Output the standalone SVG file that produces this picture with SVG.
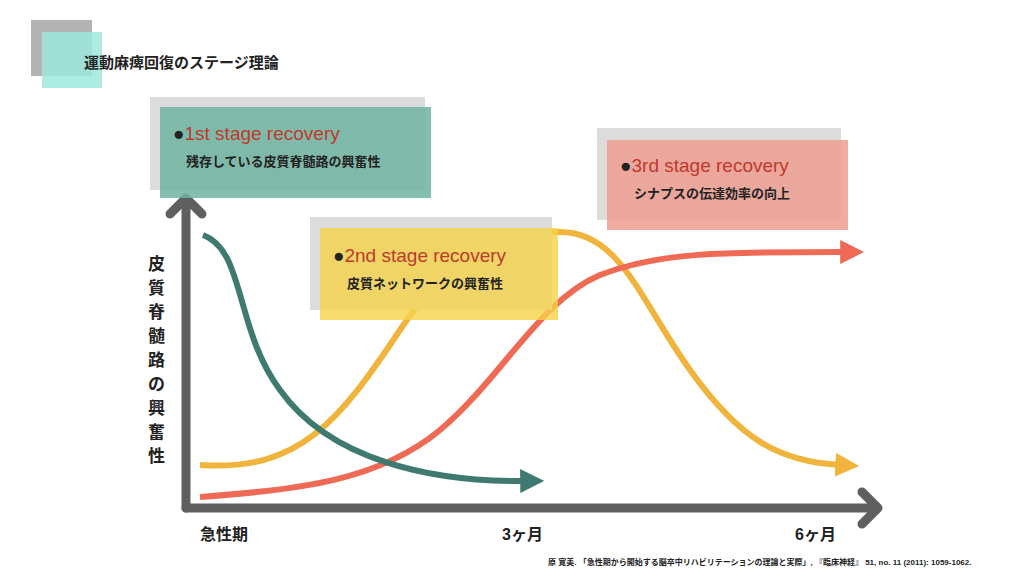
<svg xmlns="http://www.w3.org/2000/svg" width="1024" height="576" viewBox="0 0 1024 576">
<style>
text{font-family:"Liberation Sans","Noto Sans CJK JP",sans-serif;font-weight:bold;fill:#222}
.st{fill:#c0392b;font-size:19px;font-weight:normal}
.sub{font-size:13px}
.ax{font-size:16px}
.shadow{fill:#dcdcdc}
.curve{fill:none;stroke-width:6}
</style>
<defs>
<marker id="mg" viewBox="0 0 10 10" refX="2" refY="5" markerWidth="4" markerHeight="4" orient="auto" markerUnits="strokeWidth"><path d="M0,0L10,5L0,10z" fill="#3f7a70"/></marker>
<marker id="my" viewBox="0 0 10 10" refX="2" refY="5" markerWidth="4" markerHeight="4" orient="auto" markerUnits="strokeWidth"><path d="M0,0L10,5L0,10z" fill="#f0b43c"/></marker>
<marker id="mr" viewBox="0 0 10 10" refX="2" refY="5" markerWidth="4" markerHeight="4" orient="auto" markerUnits="strokeWidth"><path d="M0,0L10,5L0,10z" fill="#ee6a55"/></marker>
</defs>
<rect width="1024" height="576" fill="#fff"/>
<g id="title">
<rect x="31" y="20" width="61" height="56" fill="#b3b3b3"/>
<rect x="42" y="32" width="60" height="56" fill="#9ee8dc" opacity="0.85"/>
<text x="84" y="68" font-size="15">運動麻痺回復のステージ理論</text>
</g>
<g id="axes" stroke="#5f5f5f" stroke-width="9" fill="none" stroke-linecap="round" stroke-linejoin="round">
<path d="M186,508V200M170,214L186,198L202,214"/>
<path d="M186,508H876M862,492L878,508L862,524"/>
</g>
<g id="connectors">
<path class="curve" stroke="#f0b43c" d="M200,465C300,472 340,420 400,330C460,240 500,232 560,232C620,232 640,300 690,370C740,440 780,462 840,465" marker-end="url(#my)"/>
<path class="curve" stroke="#ee6a55" d="M200,497C300,490 380,480 440,430C500,380 540,300 600,275C660,252 720,252 845,252" marker-end="url(#mr)"/>
<path class="curve" stroke="#3f7a70" d="M203,235C245,250 235,330 280,390C330,460 430,482 525,481" marker-end="url(#mg)"/>
</g>
<g id="stage1">
<rect class="shadow" x="150" y="97" width="275" height="93"/>
<rect x="160" y="107" width="271" height="91" fill="#6fb3a0" opacity="0.85"/>
<text x="173" y="140" font-size="19" font-weight="normal">●<tspan class="st">1st stage recovery</tspan></text>
<text x="186" y="166" class="sub">残存している皮質脊髄路の興奮性</text>
</g>
<g id="stage2">
<rect class="shadow" x="310" y="217" width="242" height="93"/>
<rect x="320" y="228" width="238" height="92" fill="#f5d348" opacity="0.8"/>
<text x="333" y="262" font-size="19" font-weight="normal">●<tspan class="st">2nd stage recovery</tspan></text>
<text x="347" y="288" class="sub">皮質ネットワークの興奮性</text>
</g>
<g id="stage3">
<rect class="shadow" x="597" y="128" width="244" height="92"/>
<rect x="607" y="140" width="241" height="90" fill="#ef9e90" opacity="0.85"/>
<text x="620" y="172" font-size="19" font-weight="normal">●<tspan class="st">3rd stage recovery</tspan></text>
<text x="634" y="198" class="sub">シナプスの伝達効率の向上</text>
</g>
<g id="ylabel" font-size="17">
<text x="148" y="270">皮</text><text x="148" y="294">質</text><text x="148" y="318">脊</text><text x="148" y="342">髄</text><text x="148" y="366">路</text><text x="148" y="390">の</text><text x="148" y="414">興</text><text x="148" y="438">奮</text><text x="148" y="462">性</text>
</g>
<g id="xlabels">
<text x="200" y="540" class="ax">急性期</text>
<text x="502" y="540" class="ax">3ヶ月</text>
<text x="795" y="540" class="ax">6ヶ月</text>
</g>
<text x="548" y="565" font-size="8" font-weight="normal">原 寛美. 「急性期から開始する脳卒中リハビリテーションの理論と実際」, 『臨床神経』 51, no. 11 (2011): 1059-1062.</text>
</svg>
